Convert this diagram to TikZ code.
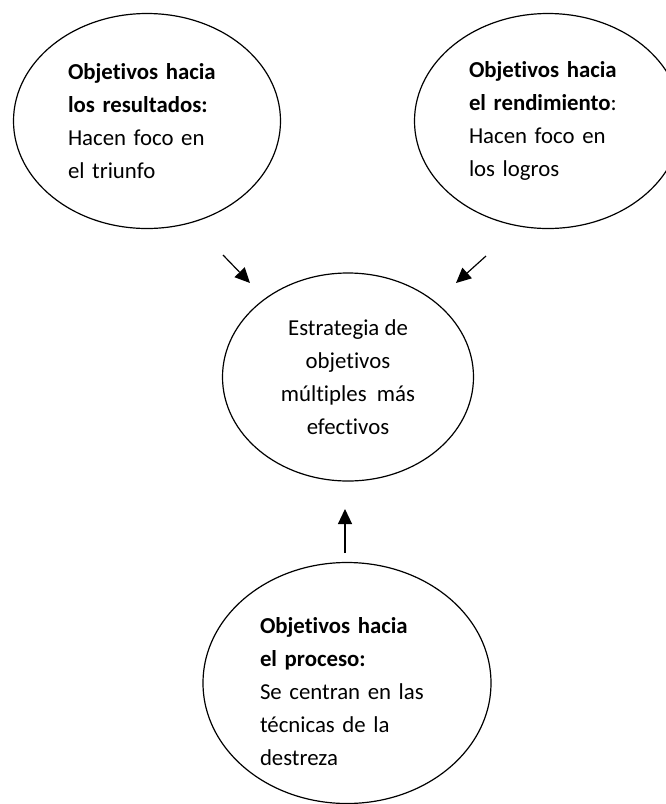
\documentclass[tikz,border=0pt]{standalone}
\usepackage{fontspec}
\setmainfont{Carlito}[Ligatures=NoCommon]
\usetikzlibrary{arrows.meta, shapes.geometric}

\begin{document}
\begin{tikzpicture}[x=1pt, y=-1pt, line width=1.2pt,
  ovalo/.style={draw, ellipse, inner sep=0pt},
  texto/.style={font=\fontsize{22.8}{33}\selectfont, align=left},
  flecha/.style={-{Triangle[length=15pt, width=14pt]}}]
\useasboundingbox (0,0) rectangle (666,804);
\node[ovalo, texto, minimum width=267pt, minimum height=215pt, text width=158pt] (res) at (147,121)
  {\textbf{Objetivos hacia}\\ \textbf{los resultados:}\\ Hacen foco en\\ el triunfo};
\node[ovalo, texto, minimum width=267pt, minimum height=215pt, text width=158pt] (ren) at (548,121)
  {\textbf{Objetivos hacia}\\ \textbf{el rendimiento}:\\ Hacen foco en\\ los logros};
\node[ovalo, texto, align=center, minimum width=251pt, minimum height=208pt] (est) at (348,377)
  {Estrategia de\\ objetivos\\ múltiples~ más\\ efectivos};
\node[ovalo, minimum width=288pt, minimum height=241pt] (pro) at (347,683) {};
\node[texto, text width=174pt] (protxt) at (347,692)
  {\textbf{Objetivos hacia}\\ \textbf{el proceso:}\\ Se centran en las\\ técnicas de la\\ destreza};
\coordinate (p1) at (223,255);
\coordinate (q1) at (250,283);
\coordinate (p2) at (486,256);
\coordinate (q2) at (456,283);
\coordinate (p3) at (345,553);
\coordinate (q3) at (345,509);
\draw[flecha] (p1) -- (q1);
\draw[flecha] (p2) -- (q2);
\draw[flecha] (p3) -- (q3);
\end{tikzpicture}
\end{document}
